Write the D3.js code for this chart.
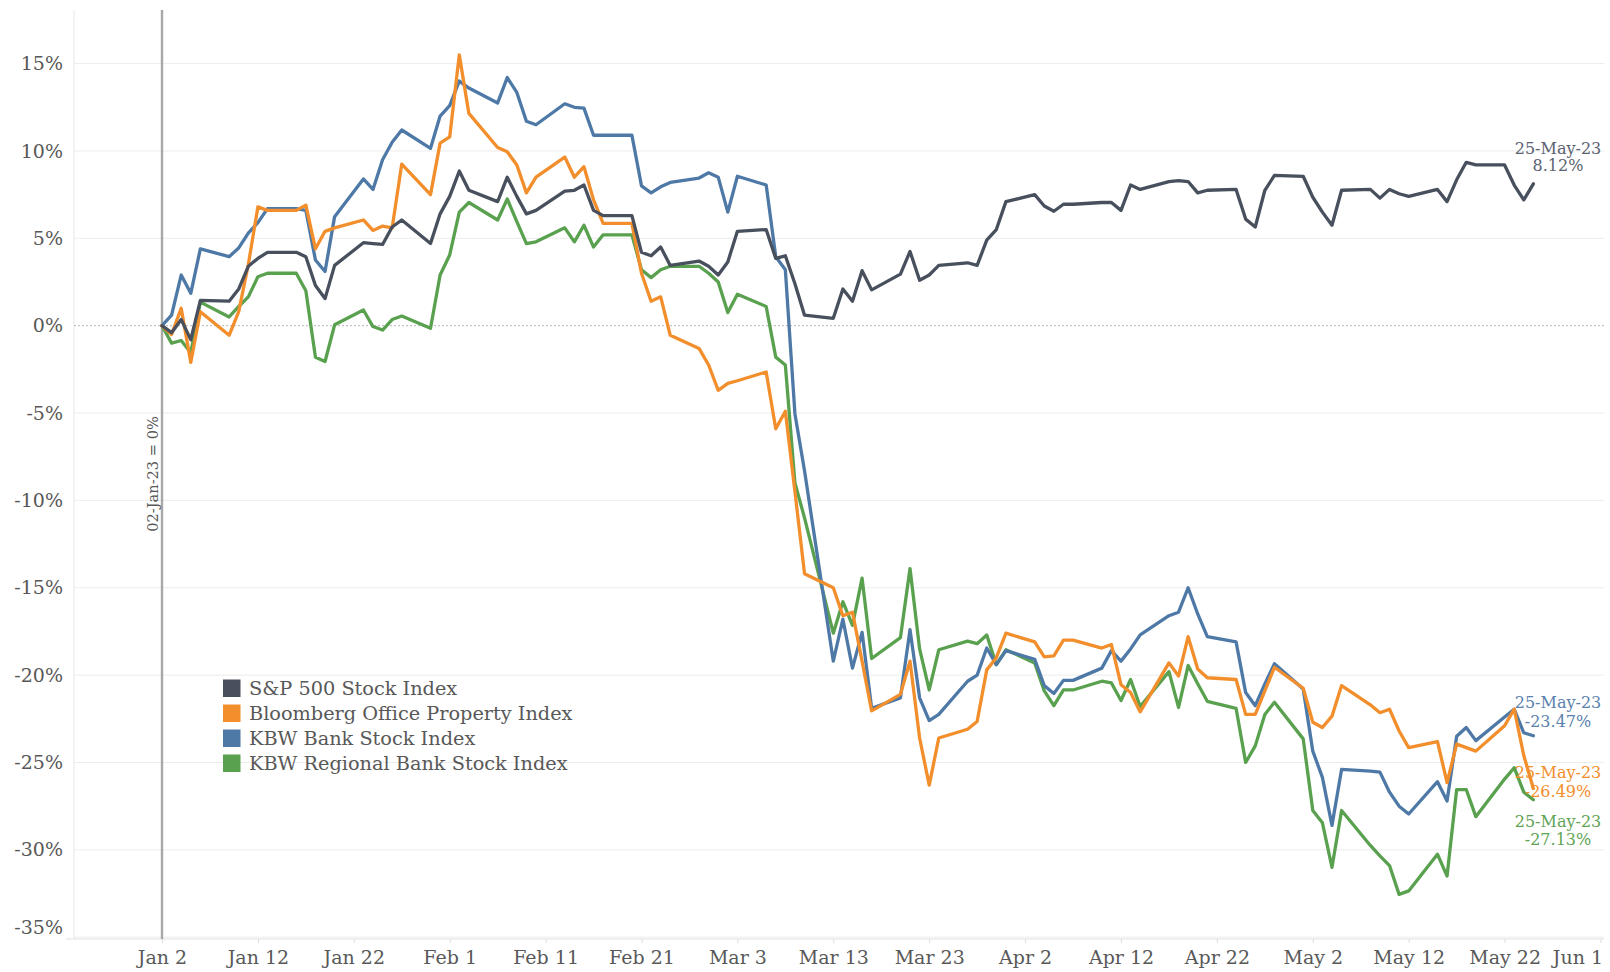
<!DOCTYPE html>
<html>
<head>
<meta charset="utf-8">
<script src="https://cdn.jsdelivr.net/npm/d3@7"></script>
<style>
  html, body { margin: 0; padding: 0; background: #ffffff; }
  svg { display: block; }
  text { font-family: "DejaVu Serif", "Liberation Serif", serif; }
</style>
</head>
<body>
<svg id="chart" width="1610" height="972"></svg>
<script>
// ---------------- DATA ----------------
const dates = [
  "2023-01-02","2023-01-03","2023-01-04","2023-01-05","2023-01-06",
  "2023-01-09","2023-01-10","2023-01-11","2023-01-12","2023-01-13",
  "2023-01-16","2023-01-17","2023-01-18","2023-01-19","2023-01-20",
  "2023-01-23","2023-01-24","2023-01-25","2023-01-26","2023-01-27",
  "2023-01-30","2023-01-31","2023-02-01","2023-02-02","2023-02-03",
  "2023-02-06","2023-02-07","2023-02-08","2023-02-09","2023-02-10",
  "2023-02-13","2023-02-14","2023-02-15","2023-02-16","2023-02-17",
  "2023-02-20","2023-02-21","2023-02-22","2023-02-23","2023-02-24",
  "2023-02-27","2023-02-28","2023-03-01","2023-03-02","2023-03-03",
  "2023-03-06","2023-03-07","2023-03-08","2023-03-09","2023-03-10",
  "2023-03-13","2023-03-14","2023-03-15","2023-03-16","2023-03-17",
  "2023-03-20","2023-03-21","2023-03-22","2023-03-23","2023-03-24",
  "2023-03-27","2023-03-28","2023-03-29","2023-03-30","2023-03-31",
  "2023-04-03","2023-04-04","2023-04-05","2023-04-06","2023-04-07",
  "2023-04-10","2023-04-11","2023-04-12","2023-04-13","2023-04-14",
  "2023-04-17","2023-04-18","2023-04-19","2023-04-20","2023-04-21",
  "2023-04-24","2023-04-25","2023-04-26","2023-04-27","2023-04-28",
  "2023-05-01","2023-05-02","2023-05-03","2023-05-04","2023-05-05",
  "2023-05-08","2023-05-09","2023-05-10","2023-05-11","2023-05-12",
  "2023-05-15","2023-05-16","2023-05-17","2023-05-18","2023-05-19",
  "2023-05-22","2023-05-23","2023-05-24","2023-05-25"
];

const seriesNames = [
  "S&P 500 Stock Index",
  "Bloomberg Office Property Index",
  "KBW Bank Stock Index",
  "KBW Regional Bank Stock Index"
];

const sp500 = [
  0, -0.4, 0.35, -0.8, 1.45,
  1.4, 2.1, 3.4, 3.85, 4.2,
  4.2, 3.95, 2.3, 1.55, 3.45,
  4.75, 4.7, 4.65, 5.65, 6.05,
  4.7, 6.4, 7.4, 8.85, 7.75,
  7.1, 8.5, 7.4, 6.4, 6.6,
  7.7, 7.75, 8.05, 6.6, 6.3,
  6.3, 4.2, 4.0, 4.5, 3.45,
  3.7, 3.4, 2.9, 3.65, 5.4,
  5.5, 3.85, 4.0, 2.4, 0.6,
  0.42, 2.1, 1.4, 3.15, 2.05,
  2.95, 4.25, 2.6, 2.9, 3.45,
  3.6, 3.45, 4.9, 5.5, 7.1,
  7.5, 6.85, 6.55, 6.95, 6.95,
  7.05, 7.05, 6.6, 8.05, 7.8,
  8.25, 8.3, 8.25, 7.6, 7.75,
  7.8, 6.1, 5.65, 7.75, 8.6,
  8.55, 7.35, 6.5, 5.75, 7.75,
  7.8, 7.3, 7.8, 7.55, 7.4,
  7.8, 7.1, 8.35, 9.35, 9.2,
  9.2, 8.05, 7.2, 8.12
];

const officeProperty = [
  0, -0.5, 1.0, -2.1, 0.8,
  -0.55, 0.8, 3.5, 6.8, 6.6,
  6.6, 6.9, 4.4, 5.4, 5.6,
  6.05, 5.45, 5.7, 5.6, 9.25,
  7.5, 10.45, 10.8, 15.5, 12.15,
  10.2, 9.95, 9.2, 7.6, 8.5,
  9.65, 8.5, 9.1, 7.2, 5.85,
  5.85, 3.0, 1.4, 1.65, -0.55,
  -1.3, -2.25, -3.7, -3.3, -3.15,
  -2.65, -5.9, -4.9, -9.5, -14.2,
  -15.0, -16.6, -16.4, -19.2, -22.05,
  -21.1, -19.2, -23.6, -26.3, -23.6,
  -23.1, -22.65, -19.7, -19.0, -17.6,
  -18.1, -18.95, -18.9, -18.0, -18.0,
  -18.45, -18.25, -20.55, -21.0, -22.1,
  -19.3, -20.05, -17.8, -19.65, -20.15,
  -20.25, -22.25, -22.25, -20.9, -19.55,
  -20.75, -22.7, -23.0, -22.35, -20.6,
  -21.7, -22.15, -21.95, -23.2, -24.15,
  -23.8, -26.15, -23.95, -24.15, -24.35,
  -22.9, -21.95, -24.6, -26.49
];

const kbwBank = [
  0, 0.6, 2.9, 1.85, 4.4,
  3.95, 4.45, 5.3, 5.9, 6.7,
  6.7, 6.6, 3.76, 3.1, 6.24,
  8.4, 7.8, 9.5, 10.5, 11.2,
  10.15, 12.0, 12.6, 14.0, 13.6,
  12.75, 14.2, 13.35, 11.7, 11.5,
  12.7, 12.5, 12.45, 10.9, 10.9,
  10.9, 8.0, 7.6, 7.95, 8.2,
  8.45, 8.75, 8.5, 6.5, 8.55,
  8.05, 3.95, 3.2, -5.05, -8.3,
  -19.2, -16.8, -19.6, -17.55, -21.9,
  -21.3, -17.4, -21.3, -22.6, -22.25,
  -20.35, -20.0, -18.45, -19.4, -18.6,
  -19.1, -20.6, -21.05, -20.3, -20.3,
  -19.6, -18.6, -19.2, -18.5, -17.7,
  -16.6, -16.4, -15.0, -16.5, -17.8,
  -18.1, -21.0, -21.75, -20.5, -19.35,
  -20.8, -24.35, -25.85, -28.6, -25.4,
  -25.5, -25.55, -26.7, -27.5, -27.95,
  -26.1, -27.2, -23.5, -23.0, -23.75,
  -22.4, -21.95, -23.3, -23.47
];

const kbwRegional = [
  0, -1.0, -0.85, -1.55, 1.35,
  0.5, 1.1, 1.65, 2.8, 3.0,
  3.0, 2.0, -1.8, -2.05, 0.05,
  0.9, -0.05, -0.25, 0.35, 0.55,
  -0.15, 2.9, 4.05, 6.5, 7.05,
  6.05, 7.25, 5.95, 4.7, 4.8,
  5.6, 4.8, 5.75, 4.5, 5.2,
  5.2, 3.2, 2.75, 3.2, 3.4,
  3.4, 3.0, 2.5, 0.75, 1.8,
  1.1, -1.8, -2.25, -9.0, -11.0,
  -17.6, -15.8, -17.15, -14.45, -19.05,
  -17.85, -13.9, -18.5, -20.85, -18.55,
  -18.05, -18.2, -17.7, -19.4, -18.55,
  -19.3, -20.9, -21.75, -20.85, -20.85,
  -20.35, -20.45, -21.45, -20.25, -21.8,
  -19.8, -21.85, -19.45, -20.5, -21.5,
  -21.9, -25.0, -24.05, -22.25, -21.55,
  -23.65, -27.75, -28.45, -31.0, -27.75,
  -29.75, -30.35, -30.9, -32.55, -32.35,
  -30.25, -31.5, -26.55, -26.55, -28.1,
  -25.95, -25.3, -26.7, -27.13
];

const endLabels = ["8.12%", "-26.49%", "-23.47%", "-27.13%"];
const endDateLabel = "25-May-23";
const baseLabel = "02-Jan-23 = 0%";

const xTickDates = [
  "2023-01-02","2023-01-12","2023-01-22","2023-02-01","2023-02-11","2023-02-21",
  "2023-03-03","2023-03-13","2023-03-23","2023-04-02","2023-04-12","2023-04-22",
  "2023-05-02","2023-05-12","2023-05-22","2023-06-01"
];
const yTicks = [-35, -30, -25, -20, -15, -10, -5, 0, 5, 10, 15];

// ---------------- STYLE / LAYOUT ----------------
const colors = ["#484f5d", "#f28e2b", "#4e79a7", "#59a14f"];
const labelColors = ["#5b6272", "#f28e2b", "#5a82ad", "#5fa455"];
const plotLeft = 74, plotRight = 1604, plotTop = 10, plotBottom = 939;
const textColor = "#585858";

const parse = d3.utcParse("%Y-%m-%d");
const dateObjs = dates.map(parse);

const x = d3.scaleUtc()
  .domain([parse("2023-01-02"), parse("2023-06-01")])
  .range([162, 1600.5]);
const y = d3.scaleLinear()
  .domain([-35, 15])
  .range([937.2, 63.6]);

const svg = d3.select("#chart");

// gridlines
svg.append("g")
  .selectAll("line")
  .data(yTicks.filter(v => v !== 0))
  .join("line")
  .attr("x1", plotLeft).attr("x2", plotRight)
  .attr("y1", d => y(d)).attr("y2", d => y(d))
  .attr("stroke", "#ececec").attr("stroke-width", 1);

// left plot border
svg.append("line")
  .attr("x1", plotLeft).attr("x2", plotLeft)
  .attr("y1", plotTop).attr("y2", plotBottom)
  .attr("stroke", "#e8e8e8").attr("stroke-width", 1);

// bottom axis line
svg.append("line")
  .attr("x1", plotLeft - 8).attr("x2", plotRight)
  .attr("y1", plotBottom).attr("y2", plotBottom)
  .attr("stroke", "#e2e2e2").attr("stroke-width", 1.2);

// zero line (dotted)
svg.append("line")
  .attr("x1", plotLeft).attr("x2", plotRight)
  .attr("y1", y(0)).attr("y2", y(0))
  .attr("stroke", "#b5b5b5").attr("stroke-width", 1)
  .attr("stroke-dasharray", "2,2");

// y axis
const yAxis = d3.axisLeft(y)
  .tickValues(yTicks)
  .tickFormat(d => d + "%")
  .tickSize(0)
  .tickPadding(0);
const yg = svg.append("g").attr("transform", "translate(63,0)").call(yAxis);
yg.select(".domain").remove();
yg.selectAll("text")
  .attr("fill", textColor)
  .style("font-size", "19px")
  .style("font-family", "'DejaVu Serif', serif")
  .attr("dy", (d) => d === -35 ? "-0.22em" : "0.32em");

// x axis
const xAxis = d3.axisBottom(x)
  .tickValues(xTickDates.map(parse))
  .tickFormat(d3.utcFormat("%b %-d"))
  .tickSize(4)
  .tickPadding(8);
const xg = svg.append("g").attr("transform", `translate(0,${plotBottom})`).call(xAxis);
xg.select(".domain").remove();
xg.selectAll(".tick line").attr("stroke", "#dcdcdc");
xg.selectAll("text")
  .attr("fill", textColor)
  .style("font-size", "19px")
  .style("font-family", "'DejaVu Serif', serif");
// last label kept inside the frame
xg.selectAll(".tick").filter((d, i) => i === xTickDates.length - 1)
  .select("text").attr("text-anchor", "end").attr("x", 2);

// reference line at base date
svg.append("line")
  .attr("x1", x(parse("2023-01-02"))).attr("x2", x(parse("2023-01-02")))
  .attr("y1", plotTop).attr("y2", plotBottom)
  .attr("stroke", "#a8a8a8").attr("stroke-width", 2.4);
svg.append("text")
  .attr("transform", `translate(${x(parse("2023-01-02")) - 9},474) rotate(-90)`)
  .attr("text-anchor", "middle")
  .attr("dy", "0.35em")
  .attr("fill", textColor)
  .style("font-size", "14.6px")
  .text(baseLabel);

// lines
const allSeries = [sp500, officeProperty, kbwBank, kbwRegional];
const line = d3.line()
  .x((d, i) => x(dateObjs[i]))
  .y(d => y(d));
const drawOrder = [3, 2, 1, 0];
drawOrder.forEach(k => {
  svg.append("path")
    .datum(allSeries[k])
    .attr("fill", "none")
    .attr("stroke", colors[k])
    .attr("stroke-width", 3.3)
    .attr("stroke-linejoin", "round")
    .attr("stroke-linecap", "round")
    .attr("d", line);
});

// end labels
const lastIdx = dates.length - 1;
const endOffsets = [[-35, -18], [-16, 3], [-33, -14], [22, 40]];
allSeries.forEach((s, k) => {
  const ly = y(s[lastIdx]);
  const g = svg.append("g");
  g.append("text")
    .attr("x", 1558).attr("y", ly + endOffsets[k][0])
    .attr("text-anchor", "middle").attr("dy", "0.35em")
    .attr("fill", labelColors[k])
    .style("font-size", "16px")
    .text(endDateLabel);
  g.append("text")
    .attr("x", 1558).attr("y", ly + endOffsets[k][1])
    .attr("text-anchor", "middle").attr("dy", "0.35em")
    .attr("fill", labelColors[k])
    .style("font-size", "16px")
    .text(endLabels[k]);
});

// legend
const legend = svg.append("g").attr("transform", "translate(223,688)");
seriesNames.forEach((name, k) => {
  const row = legend.append("g").attr("transform", `translate(0,${k * 25})`);
  row.append("rect")
    .attr("x", 0).attr("y", -8.5).attr("width", 17.5).attr("height", 17.5)
    .attr("fill", colors[k]);
  row.append("text")
    .attr("x", 26).attr("y", 0).attr("dy", "0.35em")
    .attr("fill", textColor)
    .style("font-size", "19.3px")
    .text(name);
});
</script>
</body>
</html>
